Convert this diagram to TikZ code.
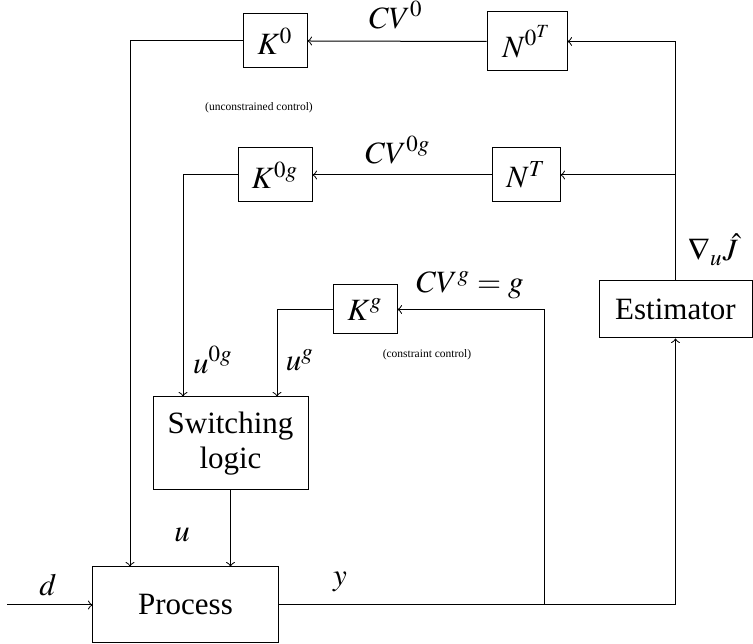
\documentclass[tikz,border=0pt]{standalone}
\usepackage{mathptmx}
\usepackage{fontspec}
\setmainfont{Liberation Serif}

\begin{document}
\begin{tikzpicture}[x=0.4pt,y=-0.4pt,
    every node/.style={font=\fontsize{12.4}{15}\selectfont},
    note/.style={font=\fontsize{4.6}{5.5}\selectfont}]
      \useasboundingbox (0,0) rectangle (753,644);

      \begin{scope}[every node/.style={draw,inner sep=0pt,font=\fontsize{12.4}{15}\selectfont}]
        \node[minimum width=25.6pt,minimum height=21.6pt] (K0)  at (275,41)    {$K^0$};
        \node[minimum width=32pt,minimum height=23.6pt]   (N0T) at (527,41.5)  {$N^{0^T}$};
        \node[minimum width=29.6pt,minimum height=21.6pt] (K0g) at (275,175)   {$K^{0g}$};
        \node[minimum width=27.2pt,minimum height=21.6pt] (NT)  at (526,175)   {$N^T$};
        \node[minimum width=25.6pt,minimum height=19.6pt] (Kg)  at (365,309.5) {$K^g$};
        \node[minimum width=62pt,minimum height=37.2pt,align=center] (switch) at (230.5,443.5) {Switching\\[-1pt]logic};
        \node[minimum width=74pt,minimum height=30.4pt]   (process) at (185.5,605) {Process};
        \node[minimum width=61.2pt,minimum height=22.8pt] (est) at (675.5,309.5) {Estimator};
      \end{scope}

      \coordinate (in) at (7,605);
      \coordinate (split) at (544,605);

      \node (CV0)  at (396,15)  {$CV^0$};
      \node (CV0g) at (398,150) {$CV^{0g}$};
      \node (CVg)  at (470,285) {$CV^g = g$};
      \node (grad) at (713,250) {$\nabla_u\hat{J}$};
      \node (u0g)  at (213,360) {$u^{0g}$};
      \node (ug)   at (300,360) {$u^g$};
      \node (u)    at (182,535) {$u$};
      \node (d)    at (48,585)  {$d$};
      \node (y)    at (340,582) {$y$};
      \node[note] (uncon) at (259,108) {(unconstrained control)};
      \node[note] (con)   at (427,355) {(constraint control)};

      \draw[->] (est.north) |- (N0T.east);
      \draw[->] (est.north |- NT.east) -- (NT.east);
      \draw[->] (N0T.west) -- (K0.east);
      \draw[->] (NT.west) -- (K0g.east);
      \draw[->] (K0.west) -| ([xshift=-22.2pt]process.north);
      \draw[->] (K0g.west) -| ([xshift=-19pt]switch.north);
      \draw[->] (Kg.west) -| ([xshift=18.6pt]switch.north);
      \draw[->] (switch.south) -- (switch.south |- process.north);
      \draw[->] (in) -- (process.west);
      \draw (process.east) -- (split);
      \draw[->] (split) |- (Kg.east);
      \draw[->] (split) -| (est.south);

    \end{tikzpicture}
\end{document}
